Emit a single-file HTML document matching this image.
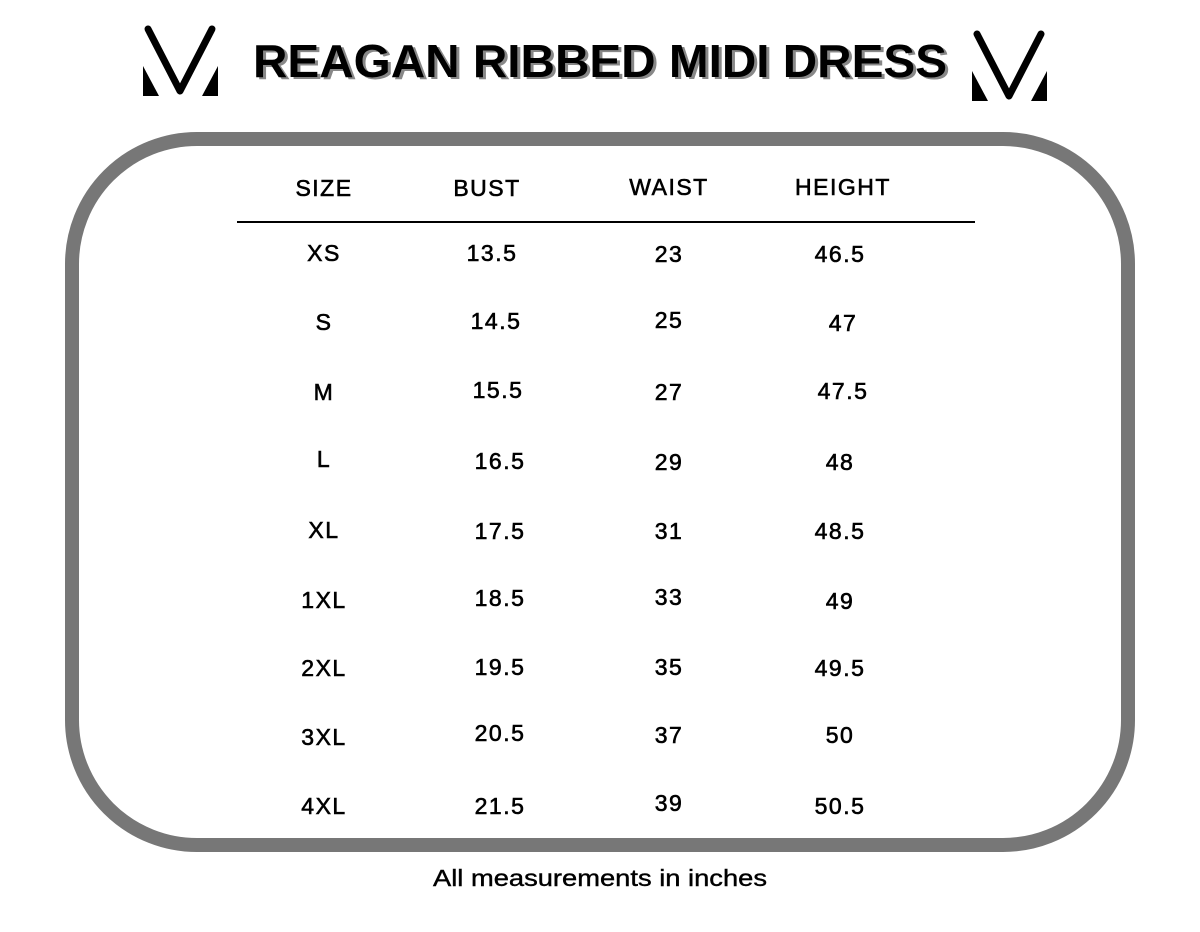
<!DOCTYPE html>
<html><head><style>html,body{margin:0;padding:0;background:#fff}</style></head>
<body>
<svg width="1200" height="927" viewBox="0 0 1200 927" xmlns="http://www.w3.org/2000/svg" font-family="Liberation Sans, sans-serif">
<rect x="0" y="0" width="1200" height="927" fill="#fff"/>
<g id="logo">
<polyline points="148,29 180,91 212,29" fill="none" stroke="#000" stroke-width="7" stroke-linecap="round" stroke-linejoin="round"/>
<polygon points="143,66 143,96 159,96" fill="#000"/>
<polygon points="218,66 218,96 202,96" fill="#000"/>
</g>
<use href="#logo" transform="translate(829,5)"/>
<text x="603" y="79" font-size="46" font-weight="bold" fill="#888" text-anchor="middle" textLength="694" lengthAdjust="spacingAndGlyphs">REAGAN RIBBED MIDI DRESS</text>
<text x="600" y="77" font-size="46" font-weight="bold" fill="#000" text-anchor="middle" textLength="694" lengthAdjust="spacingAndGlyphs">REAGAN RIBBED MIDI DRESS</text>
<rect x="72" y="139" width="1056" height="706" rx="125" ry="125" fill="none" stroke="#777" stroke-width="14"/>
<line x1="237" y1="222" x2="975" y2="222" stroke="#000" stroke-width="2"/>
<g font-size="23" fill="#000" stroke="#000" stroke-width="0.6" text-anchor="middle" letter-spacing="1.5">
<text x="324" y="196">SIZE</text><text x="487" y="196">BUST</text><text x="669" y="195">WAIST</text><text x="843" y="195">HEIGHT</text>
<text x="324" y="261">XS</text><text x="492" y="261">13.5</text><text x="669" y="262">23</text><text x="840" y="262">46.5</text>
<text x="324" y="330">S</text><text x="496" y="329">14.5</text><text x="669" y="328">25</text><text x="843" y="331">47</text>
<text x="324" y="400">M</text><text x="498" y="398">15.5</text><text x="669" y="400">27</text><text x="843" y="399">47.5</text>
<text x="324" y="467">L</text><text x="500" y="469">16.5</text><text x="669" y="470">29</text><text x="840" y="470">48</text>
<text x="324" y="538">XL</text><text x="500" y="539">17.5</text><text x="669" y="539">31</text><text x="840" y="539">48.5</text>
<text x="324" y="608">1XL</text><text x="500" y="606">18.5</text><text x="669" y="605">33</text><text x="840" y="609">49</text>
<text x="324" y="676">2XL</text><text x="500" y="675">19.5</text><text x="669" y="675">35</text><text x="840" y="676">49.5</text>
<text x="324" y="745">3XL</text><text x="500" y="741">20.5</text><text x="669" y="743">37</text><text x="840" y="743">50</text>
<text x="324" y="814">4XL</text><text x="500" y="814">21.5</text><text x="669" y="811">39</text><text x="840" y="814">50.5</text>
</g>
<text x="600" y="886" font-size="23" text-anchor="middle" fill="#000" stroke="#000" stroke-width="0.4" textLength="334" lengthAdjust="spacingAndGlyphs">All measurements in inches</text>
</svg>
</body></html>
